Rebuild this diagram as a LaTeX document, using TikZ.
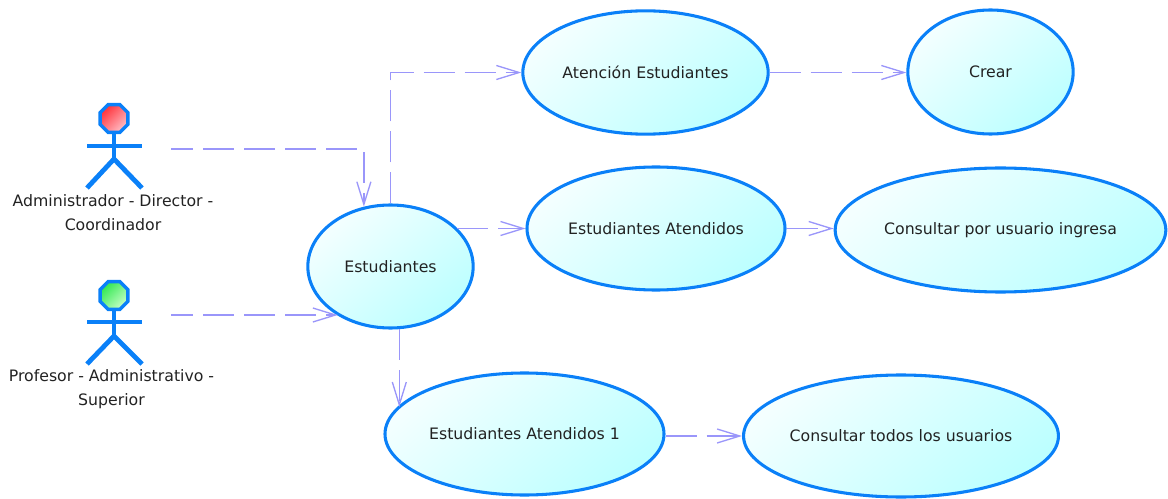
\documentclass[tikz,border=0pt]{standalone}
\usepackage{fontspec}
\setmainfont{DejaVu Sans}
\usetikzlibrary{shapes.geometric,arrows.meta}
\definecolor{ucblue}{HTML}{0A80F8}
\definecolor{flowc}{HTML}{9A96FA}
\definecolor{ink}{HTML}{222222}
\definecolor{redA}{HTML}{FF3038}
\definecolor{redB}{HTML}{FFC0C8}
\definecolor{greenA}{HTML}{30E850}
\definecolor{greenB}{HTML}{C8FFC8}
\definecolor{ucA}{HTML}{F4FFFF}
\definecolor{ucB}{HTML}{BCFFFF}
\tikzset{
  x=0.75pt,y=-0.75pt,
  uc/.style={ellipse,draw=ucblue,line width=2.3pt,inner sep=0pt,text=ink,font=\fontsize{11.8}{13}\selectfont,
    shading=axis,top color=ucA,bottom color=ucB,shading angle=40},
  flow/.style={draw=flowc,line width=1.1pt,dash pattern=on 23.25pt off 7.5pt,
    -{Straight Barb[length=17pt,width=10.5pt,line width=1pt]}},
  limb/.style={draw=ucblue,line width=3.6pt},
  head/.style={regular polygon,regular polygon sides=8,draw=ucblue,line width=2.6pt,minimum size=22.7pt,inner sep=0pt},
  lab/.style={align=center,text=ink,font=\fontsize{11.8}{18}\selectfont,inner sep=0pt},
}
\begin{document}
\begin{tikzpicture}
\useasboundingbox (0,0) rectangle (1168,499);
\node[uc,minimum width=184pt,minimum height=92.5pt] (aten) at (645.5,72.5) {Atención Estudiantes};
\node[uc,minimum width=124pt,minimum height=93pt] (crear) at (990.5,72) {Crear};
\node[uc,minimum width=193.5pt,minimum height=92.25pt] (ea) at (656,228.5) {Estudiantes Atendidos};
\node[uc,minimum width=248pt,minimum height=93pt] (cpor) at (1000.5,230) {Consultar por usuario ingresa};
\node[uc,minimum width=124pt,minimum height=92.25pt] (est) at (390.5,266.5) {Estudiantes};
\node[uc,minimum width=209.25pt,minimum height=91.5pt] (ea1) at (524.5,434) {Estudiantes Atendidos 1};
\node[uc,minimum width=235.5pt,minimum height=91.5pt] (ctod) at (901,436) {Consultar todos los usuarios};
% actor 1
\coordinate (n1) at (114,159);
\coordinate (al1) at (87,146); \coordinate (ar1) at (142,146);
\coordinate (ll1) at (87,188); \coordinate (lr1) at (142,188);
\node[head,shading=axis,top color=redA,bottom color=redB,shading angle=45] (h1) at (114,118.5) {};
\draw[limb] (h1) -- (n1);
\draw[limb] (al1) -- (ar1);
\draw[limb] (ll1) -- (n1) -- (lr1);
\node[lab] (t1) at (113,213) {Administrador - Director -\\Coordinador};
% actor 2
\coordinate (n2) at (114,336);
\coordinate (al2) at (87,322); \coordinate (ar2) at (142,322);
\coordinate (ll2) at (87,364); \coordinate (lr2) at (142,364);
\node[head,shading=axis,top color=greenA,bottom color=greenB,shading angle=45] (h2) at (114,295.5) {};
\draw[limb] (h2) -- (n2);
\draw[limb] (al2) -- (ar2);
\draw[limb] (ll2) -- (n2) -- (lr2);
\node[lab] (t2) at (111.5,389.5) {Profesor - Administrativo -\\Superior};
% connectors
\coordinate (o1) at (171,149);
\coordinate (o2) at (171,315);
\draw[flow,dash phase=6.75pt] (o1) -| (est.114.5);
\draw[flow,dash phase=6.75pt] (o2) -- (o2 -| est.223.7);
\draw[flow] (est.north) |- (aten.west);
\draw[flow] (ea.west -| est.30.4) -- (ea.west);
\draw[flow] (est.-82) -- (est.-82 |- ea1.168);
\draw[flow] (aten.east) -- (crear.west |- aten.east);
\draw[flow] (ea.east) -- (cpor.west |- ea.east);
\draw[flow] (ea1.east |- ctod.west) -- (ctod.west);
\end{tikzpicture}
\end{document}
